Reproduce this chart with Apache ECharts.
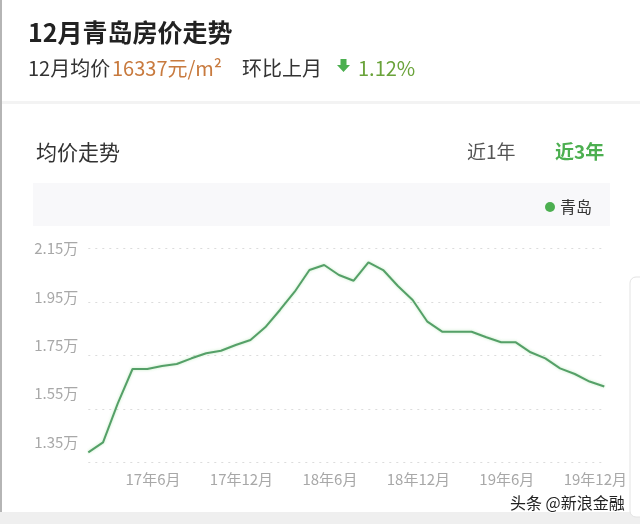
<!DOCTYPE html>
<html>
<head>
<meta charset="utf-8">
<script src="https://cdn.jsdelivr.net/npm/echarts@6/dist/echarts.min.js"></script>
<style>
html,body{margin:0;padding:0;background:#fff;}
#c{width:640px;height:524px;}
</style>
</head>
<body>
<div id="c"></div>
<script>
// ---- data ----
const months = [
  '17年1月','17年2月','17年3月','17年4月','17年5月','17年6月','17年7月','17年8月','17年9月','17年10月','17年11月','17年12月',
  '18年1月','18年2月','18年3月','18年4月','18年5月','18年6月','18年7月','18年8月','18年9月','18年10月','18年11月','18年12月',
  '19年1月','19年2月','19年3月','19年4月','19年5月','19年6月','19年7月','19年8月','19年9月','19年10月','19年11月','19年12月'
];
const prices = [
  13874, 14248, 15708, 16991, 16991, 17103, 17178, 17391, 17579, 17676, 17889, 18076,
  18551, 19199, 19883, 20695, 20883, 20508, 20295, 20984, 20695, 20097, 19573, 18761,
  18387, 18387, 18387, 18177, 17990, 17990, 17616, 17391, 17017, 16804, 16522, 16337
];
const yTicks = [13500, 15500, 17500, 19500, 21500];
const seriesName = '青岛';
const titleText = '12月青岛房价走势';

const FONT = '"Noto Sans CJK SC", "Noto Sans", sans-serif';
const last = prices[prices.length - 1];
const prev = prices[prices.length - 2];
const pct = ((prev - last) / prev * 100).toFixed(2) + '%';

const chart = echarts.init(document.getElementById('c'), null, {renderer: 'canvas'});

const yFmt = v => (v / 10000).toFixed(2) + '万';

chart.setOption({
  animation: false,
  backgroundColor: '#fff',
  textStyle: {fontFamily: FONT},
  grid: {left: 88.3, right: 35.7, top: 248.5, bottom: 61.7, containLabel: false},
  legend: {
    data: [seriesName],
    right: 43, top: 194,
    icon: 'circle', itemWidth: 10, itemHeight: 10, itemGap: 9,
    textStyle: {fontSize: 16, color: '#333', fontFamily: FONT}
  },
  xAxis: {
    type: 'category',
    data: months,
    boundaryGap: false,
    axisLine: {show: false},
    axisTick: {show: false},
    axisLabel: {
      interval: (i) => i % 6 === 5,
      color: '#a8a8a8', fontSize: 15, margin: 9,
      padding: [0, 18, 0, 0], fontFamily: FONT
    },
    splitLine: {show: false}
  },
  yAxis: [
    {
      type: 'value', min: yTicks[0], max: yTicks[yTicks.length - 1],
      axisLine: {show: false},
      axisTick: {show: false, customValues: yTicks},
      axisLabel: {show: false, customValues: yTicks},
      splitLine: {show: true, lineStyle: {color: '#dcdcdc', type: [2, 5], width: 1}}
    },
    {
      type: 'value', min: 12661, max: yTicks[yTicks.length - 1], position: 'left',
      axisLine: {show: false},
      axisTick: {show: false, customValues: yTicks},
      axisLabel: {customValues: yTicks, formatter: yFmt, color: '#a8a8a8', fontSize: 15, margin: 10, fontFamily: FONT},
      splitLine: {show: false}
    }
  ],
  series: [{
    name: seriesName,
    type: 'line',
    yAxisIndex: 0,
    data: prices,
    showSymbol: false,
    symbol: 'circle',
    itemStyle: {color: '#4caf50'},
    lineStyle: {color: '#55a068', width: 2, shadowColor: 'rgba(120,210,120,0.45)', shadowBlur: 3}
  }],
  graphic: [
    {type: 'rect', silent: true, z: -10, shape: {x: 0, y: 0, width: 2, height: 512}, style: {fill: '#b5b5b5'}},
    {type: 'rect', silent: true, z: -10, shape: {x: 2, y: 101, width: 638, height: 3}, style: {fill: '#f3f3f3'}},
    {type: 'rect', silent: true, z: -10, shape: {x: 33, y: 183, width: 577, height: 43}, style: {fill: '#f8f8fa'}},
    {type: 'rect', silent: true, z: -10, shape: {x: 0, y: 512, width: 640, height: 12}, style: {fill: '#efefef'}},
    {type: 'rect', silent: true, z: -10, shape: {x: 630, y: 277, width: 30, height: 240, r: 6}, style: {fill: '#fff', stroke: '#e3e3e3', lineWidth: 1}},
    {type: 'text', x: 28, y: 32, style: {text: titleText, font: 'bold 25px ' + FONT, fill: '#222', verticalAlign: 'middle'}},
    {type: 'text', x: 28, y: 68, style: {text: '12月均价', font: '20px ' + FONT, fill: '#333', verticalAlign: 'middle'}},
    {type: 'text', x: 112, y: 68, style: {text: last + '元/m²', font: '20px ' + FONT, fill: '#c87a3e', verticalAlign: 'middle'}},
    {type: 'text', x: 242, y: 68, style: {text: '环比上月', font: '20px ' + FONT, fill: '#333', verticalAlign: 'middle'}},
    {type: 'polygon', silent: true, shape: {points: [[340.5, 59], [346.5, 59], [346.5, 65], [350, 65], [343.5, 72], [337, 65], [340.5, 65]]}, style: {fill: '#4caf50'}},
    {type: 'text', x: 358, y: 68, style: {text: pct, font: '20px ' + FONT, fill: '#6aa33a', verticalAlign: 'middle'}},
    {type: 'text', x: 36, y: 152, style: {text: '均价走势', font: '21px ' + FONT, fill: '#333', verticalAlign: 'middle'}},
    {type: 'text', x: 467, y: 152, style: {text: '近1年', font: '19px ' + FONT, fill: '#555', verticalAlign: 'middle'}},
    {type: 'text', x: 555, y: 152, style: {text: '近3年', font: 'bold 19px ' + FONT, fill: '#4caf50', verticalAlign: 'middle'}},
    {type: 'text', x: 510, y: 503, style: {text: '头条 @新浪金融', font: '16px ' + FONT, fill: '#222', stroke: '#fff', lineWidth: 2, verticalAlign: 'middle'}}
  ]
});
</script>
</body>
</html>
